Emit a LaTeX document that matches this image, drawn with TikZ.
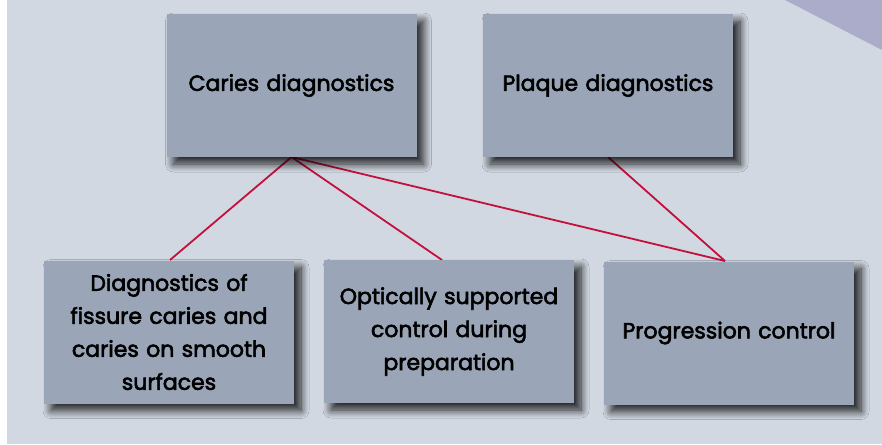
\documentclass[tikz,border=0pt]{standalone}
\usepackage{fontspec}
\setmainfont{Poppins}
\newfontfamily\boxfont{Poppins}[FakeBold=2.6]
\usetikzlibrary{shadows.blur}
\definecolor{bg}{HTML}{D1D8E2}
\definecolor{boxc}{HTML}{9AA6B7}
\definecolor{linec}{HTML}{C4103C}
\definecolor{band}{HTML}{AAACCA}
\begin{document}
\begin{tikzpicture}[x=1pt,y=-1pt,
  box/.style={fill=boxc, minimum width=250pt, minimum height=143pt, inner sep=0pt,
    align=center, font=\boxfont\fontsize{22}{33}\selectfont, text width=244pt,
    blur shadow={shadow xshift=7pt, shadow yshift=-7pt, shadow blur steps=10, shadow opacity=85, shadow blur radius=8pt}},
  conn/.style={draw=linec, line width=1.8pt}]
\useasboundingbox (0,0) rectangle (882,444);
\fill[white] (0,0) rectangle (7,444);
\fill[bg] (7,0) rectangle (882,444);
\fill[band] (785,0) -- (882,0) -- (882,50) -- cycle;
\coordinate (c1) at (291.5,157);
\coordinate (p1) at (608,157);
\coordinate (d1) at (170,260);
\coordinate (o1) at (442,260);
\coordinate (g1) at (725,261);
\draw[conn] (c1) -- (d1);
\draw[conn] (c1) -- (o1);
\draw[conn] (c1) -- (g1);
\draw[conn] (p1) -- (g1);
\node[box] (caries) at (291.5,85.5) {Caries diagnostics};
\node[box] (plaque) at (608,85.5) {Plaque diagnostics};
\node[box] (diag) at (169,332) {Diagnostics of\\fissure caries and\\caries on smooth\\surfaces};
\node[box] (opt) at (449,331.5) {Optically supported\\control during\\preparation};
\node[box] (prog) at (729,333) {Progression control};
\end{tikzpicture}
\end{document}
